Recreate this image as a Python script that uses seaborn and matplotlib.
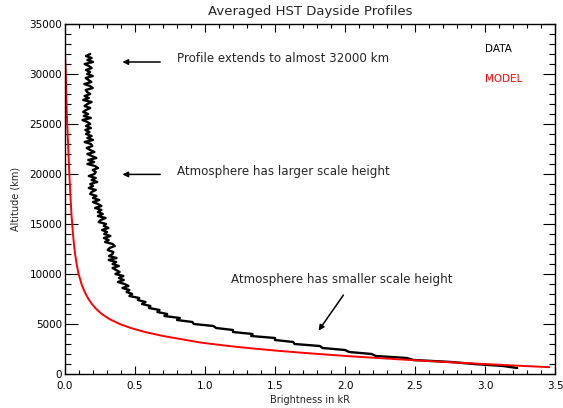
import matplotlib
matplotlib.use("Agg")
import matplotlib.pyplot as plt
import seaborn as sns
from matplotlib.ticker import MultipleLocator

sns.set_style("ticks")
plt.rcParams['font.family'] = ['DejaVu Sans']

# -----------------------------
# Data
# -----------------------------
# averaged HST profile, top to bottom (km)
data_alt = [32000, 31800, 31600, 31400, 31200, 31000, 30800, 30600, 30400, 30200,
            30000, 29800, 29600, 29400, 29200, 29000, 28800, 28600, 28400, 28200,
            28000, 27800, 27600, 27400, 27200, 27000, 26800, 26600, 26400, 26200,
            26000, 25800, 25600, 25400, 25200, 25000, 24800, 24600, 24400, 24200,
            24000, 23800, 23600, 23400, 23200, 23000, 22800, 22600, 22400, 22200,
            22000, 21800, 21600, 21400, 21200, 21000, 20800, 20600, 20400, 20200,
            20000, 19800, 19600, 19400, 19200, 19000, 18800, 18600, 18400, 18200,
            18000, 17800, 17600, 17400, 17200, 17000, 16800, 16600, 16400, 16200,
            16000, 15800, 15600, 15400, 15200, 15000, 14800, 14600, 14400, 14200,
            14000, 13800, 13600, 13400, 13200, 13000, 12800, 12600, 12400, 12200,
            12000, 11800, 11600, 11400, 11200, 11000, 10800, 10600, 10400, 10200,
            10000, 9800, 9600, 9400, 9200, 9000, 8800, 8600, 8400, 8200,
            8000, 7800, 7600, 7400, 7200, 7000, 6800, 6600, 6400, 6200,
            6000, 5800, 5600, 5400, 5200, 5000, 4800, 4600, 4400, 4200,
            4000, 3800, 3600, 3400, 3200, 3000, 2800, 2600, 2400, 2200,
            2000, 1800, 1600, 1400, 1200, 1000, 800, 600]
data_kr = [0.18, 0.15, 0.19, 0.16, 0.20, 0.14, 0.17, 0.19, 0.15, 0.18,
           0.158, 0.198, 0.148, 0.168, 0.188, 0.138, 0.178, 0.198, 0.148, 0.158,
           0.18, 0.14, 0.17, 0.13, 0.19, 0.16, 0.14, 0.18, 0.15, 0.13,
           0.165, 0.135, 0.185, 0.125, 0.16, 0.18, 0.15, 0.185, 0.145, 0.175,
           0.15, 0.19, 0.16, 0.20, 0.14, 0.185, 0.195, 0.155, 0.18, 0.21,
           0.16, 0.192, 0.224, 0.166, 0.208, 0.16, 0.214, 0.236, 0.198, 0.22,
           0.21, 0.17, 0.22, 0.19, 0.23, 0.18, 0.20, 0.17, 0.22, 0.19,
           0.18, 0.225, 0.20, 0.245, 0.20, 0.235, 0.26, 0.215, 0.26, 0.235,
           0.27, 0.235, 0.29, 0.255, 0.24, 0.293, 0.277, 0.31, 0.265, 0.30,
           0.28, 0.324, 0.278, 0.312, 0.286, 0.34, 0.355, 0.318, 0.305, 0.345,
           0.34, 0.314, 0.368, 0.312, 0.366, 0.34, 0.385, 0.34, 0.365, 0.39,
           0.36, 0.417, 0.385, 0.42, 0.378, 0.425, 0.453, 0.41, 0.46, 0.44,
           0.48, 0.46, 0.53, 0.52, 0.575, 0.55, 0.61, 0.60, 0.675, 0.66,
           0.73, 0.71, 0.82, 0.80, 0.91, 0.92, 1.06, 1.08, 1.20, 1.20,
           1.34, 1.33, 1.50, 1.50, 1.63, 1.64, 1.82, 1.84, 2.00, 2.03,
           2.19, 2.22, 2.44, 2.49, 2.76, 2.92, 3.13, 3.23]

# model profile
model_alt = [32000, 31000, 30000, 28000, 26000, 24000, 22000, 20000, 18000, 16000,
             14000, 13000, 12000, 11000, 10000, 9000, 8500, 8000, 7500, 7000,
             6500, 6000, 5500, 5000, 4600, 4200, 3800, 3400, 3140, 2800,
             2540, 2300, 2120, 1940, 1780, 1620, 1480, 1340, 1220, 1100,
             1020, 860, 720, 680]
model_kr = [0.0, 0.003, 0.006, 0.009, 0.013, 0.019, 0.025, 0.031, 0.038, 0.046,
            0.057, 0.064, 0.072, 0.083, 0.097, 0.118, 0.132, 0.148, 0.168, 0.192,
            0.223, 0.263, 0.317, 0.391, 0.470, 0.571, 0.701, 0.865, 0.97, 1.17,
            1.35, 1.54, 1.70, 1.87, 2.03, 2.21, 2.37, 2.54, 2.69, 2.85,
            2.96, 3.19, 3.40, 3.46]

# -----------------------------
# Plot
# -----------------------------
fig = plt.figure(figsize=(5.63, 4.08), dpi=100)
ax = fig.add_axes([65 / 563, 34 / 408, 490 / 563, 350 / 408])

sns.lineplot(x=data_kr, y=data_alt, sort=False, estimator=None,
             color='black', lw=1.7, ax=ax)
sns.lineplot(x=model_kr, y=model_alt, sort=False, estimator=None,
             color='red', lw=1.4, ax=ax)

ax.set_xlim(0, 3.5)
ax.set_ylim(0, 35000)
ax.xaxis.set_major_locator(MultipleLocator(0.5))
ax.xaxis.set_minor_locator(MultipleLocator(0.1))
ax.yaxis.set_major_locator(MultipleLocator(5000))
ax.yaxis.set_minor_locator(MultipleLocator(1000))
ax.xaxis.set_major_formatter(lambda v, p: f"{v:.1f}")
ax.yaxis.set_major_formatter(lambda v, p: f"{v:.0f}")

ax.tick_params(axis='both', which='both', direction='in', top=True, right=True,
               colors='black', labelsize=7.5, width=0.8)
ax.tick_params(axis='x', which='major', length=6, pad=5)
ax.tick_params(axis='x', which='minor', length=3)
ax.tick_params(axis='y', which='major', length=9, pad=2)
ax.tick_params(axis='y', which='minor', length=4)
for s in ax.spines.values():
    s.set_linewidth(1.0)
    s.set_color('black')

ax.set_xlabel("Brightness in kR", fontsize=7, va='center')
ax.set_ylabel("Altitude (km)", fontsize=7, va='center')
ax.xaxis.set_label_coords(0.5, -0.074)
ax.yaxis.set_label_coords(-0.102, 0.5)
fig.text(310 / 563, 1 - 12 / 408, "Averaged HST Dayside Profiles",
         ha='center', va='center', fontsize=9.5)

# legend-like labels
ax.text(3.0, 32500, "DATA", color='black', fontsize=7.5, va='center')
ax.text(3.0, 29500, "MODEL", color='red', fontsize=7.5, va='center')

# annotations
arrow = dict(arrowstyle='-|>', color='black', lw=1.1, mutation_scale=8)
ax.annotate("", xy=(0.39, 31200), xytext=(0.70, 31200), arrowprops=arrow)
ax.text(0.8, 31500, "Profile extends to almost 32000 km", fontsize=8.6, va='center')
ax.annotate("", xy=(0.39, 19960), xytext=(0.70, 19960), arrowprops=arrow)
ax.text(0.8, 20260, "Atmosphere has larger scale height", fontsize=8.6, va='center')
ax.annotate("", xy=(1.8, 4110), xytext=(2.0, 8120), arrowprops=arrow)
ax.text(1.98, 9430, "Atmosphere has smaller scale height", fontsize=8.6,
        ha='center', va='center')

fig.savefig("out.png", dpi=100)
